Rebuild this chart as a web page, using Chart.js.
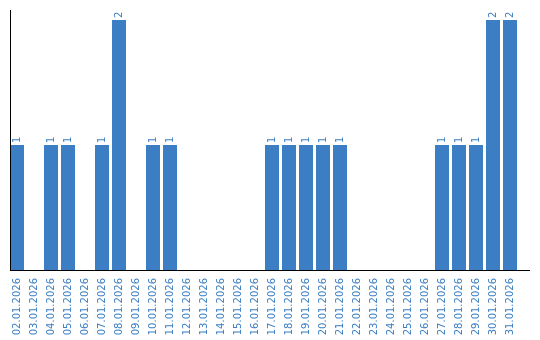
<!DOCTYPE html>
<html>
<head>
<meta charset="utf-8">
<script src="https://cdn.jsdelivr.net/npm/chart.js@4.4.0/dist/chart.umd.min.js"></script>
<style>
  html, body { margin: 0; padding: 0; background: #fff; }
  #wrap { width: 540px; height: 340px; }
</style>
</head>
<body>
<div id="wrap"><canvas id="bar-chart" width="540" height="340"></canvas></div>
<script>
// days of january
var days = ["02.01.2026", "03.01.2026", "04.01.2026", "05.01.2026", "06.01.2026",
  "07.01.2026", "08.01.2026", "09.01.2026", "10.01.2026", "11.01.2026",
  "12.01.2026", "13.01.2026", "14.01.2026", "15.01.2026", "16.01.2026",
  "17.01.2026", "18.01.2026", "19.01.2026", "20.01.2026", "21.01.2026",
  "22.01.2026", "23.01.2026", "24.01.2026", "25.01.2026", "26.01.2026",
  "27.01.2026", "28.01.2026", "29.01.2026", "30.01.2026", "31.01.2026"];
// count per day
var counts = [1, 0, 1, 1, 0, 1, 2, 0, 1, 1,
  0, 0, 0, 0, 0, 1, 1, 1, 1, 1,
  0, 0, 0, 0, 0, 1, 1, 1, 2, 2];

var blue = '#3b7ec3';
var labelFont = '10px "DejaVu Sans"';

// axis lines + value labels on top of bars
var extras = {
  id: 'extras',
  afterDatasetsDraw: function (chart) {
    var ctx = chart.ctx;
    var area = chart.chartArea;
    ctx.save();
    ctx.strokeStyle = '#000';
    ctx.lineWidth = 1;
    ctx.beginPath();
    ctx.moveTo(10.5, area.top);
    ctx.lineTo(10.5, area.bottom);
    ctx.moveTo(10, area.bottom + 0.5);
    ctx.lineTo(530, area.bottom + 0.5);
    ctx.stroke();

    var meta = chart.getDatasetMeta(0);
    ctx.fillStyle = blue;
    ctx.font = labelFont;
    ctx.textAlign = 'left';
    ctx.textBaseline = 'middle';
    meta.data.forEach(function (bar, i) {
      if (!counts[i]) return;
      ctx.save();
      ctx.translate(bar.x, bar.y - 2);
      ctx.rotate(-Math.PI / 2);
      ctx.fillText(String(counts[i]), 0, 0);
      ctx.restore();
    });
    ctx.restore();
  }
};

new Chart(document.getElementById("bar-chart"), {
  type: 'bar',
  data: {
    labels: days,
    datasets: [
      {
        data: counts,
        backgroundColor: blue,
        borderWidth: 0,
        barPercentage: 14 / 17,
        categoryPercentage: 1
      }
    ]
  },
  options: {
    responsive: false,
    animation: false,
    events: [],
    layout: { padding: { left: 8.5, right: 21.5, top: 10, bottom: 0 } },
    plugins: {
      legend: { display: false },
      tooltip: { enabled: false }
    },
    scales: {
      x: {
        grid: { display: false },
        border: { display: false },
        ticks: {
          color: blue,
          font: { family: 'DejaVu Sans', size: 10 },
          minRotation: 90,
          maxRotation: 90,
          autoSkip: false,
          padding: 0
        },
        afterFit: function (scale) { scale.height = 70; }
      },
      y: {
        display: false,
        min: 0,
        max: 2.08
      }
    }
  },
  plugins: [extras]
});
</script>
</body>
</html>
